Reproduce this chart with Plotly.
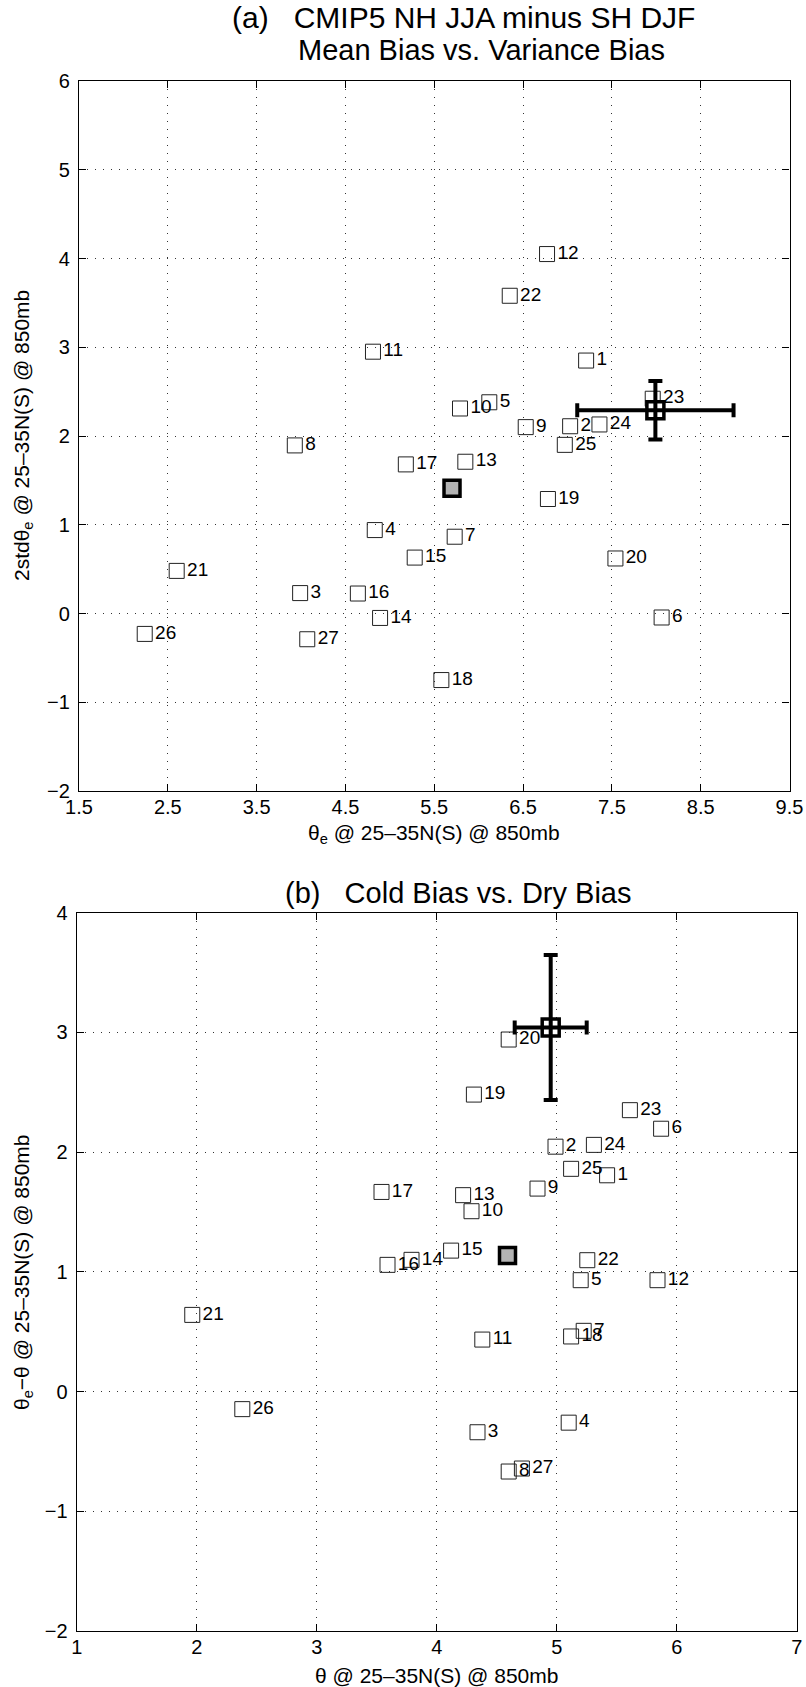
import plotly.graph_objects as go

W, H = 806, 1687

model_labels = [str(i) for i in range(1, 28)]

# Panel (a): mean bias (theta_e) vs variance bias (2 std theta_e)
a_theta_e = [7.21, 7.03, 3.99, 4.83, 6.12, 8.06, 5.73, 3.93, 6.53, 5.79,
             4.81, 6.77, 5.85, 4.89, 5.28, 4.64, 5.18, 5.58, 6.78, 7.54,
             2.60, 6.35, 7.96, 7.36, 6.97, 2.24, 4.07]
a_2std = [2.85, 2.11, 0.23, 0.94, 2.38, -0.045, 0.865, 1.894, 2.10, 2.31,
          2.95, 4.05, 1.71, -0.05, 0.63, 0.225, 1.68, -0.75, 1.29, 0.62,
          0.48, 3.58, 2.42, 2.13, 1.90, -0.23, -0.29]
a_mean = [5.70, 1.41]
a_obs = [7.99, 2.29]
a_obs_err = [0.88, 0.33]

# Panel (b): cold bias (theta) vs dry bias (theta_e - theta)
b_theta = [5.42, 4.99, 4.34, 5.10, 5.20, 5.87, 5.225, 4.60, 4.84, 4.29,
           4.38, 5.84, 4.22, 3.79, 4.12, 3.59, 3.54, 5.12, 4.31, 4.60,
           1.963, 5.255, 5.61, 5.31, 5.12, 2.38, 4.71]
b_dry = [1.806, 2.045, -0.34, -0.26, 0.93, 2.195, 0.507, -0.668, 1.695, 1.506,
         0.434, 0.93, 1.64, 1.10, 1.177, 1.058, 1.667, 0.46, 2.48, 2.94,
         0.64, 1.097, 2.35, 2.06, 1.86, -0.147, -0.643]
b_mean = [4.59, 1.137]
b_obs = [4.95, 3.04]
b_obs_err = [0.30, 0.605]

a_xticks = [1.5, 2.5, 3.5, 4.5, 5.5, 6.5, 7.5, 8.5, 9.5]
a_yticks = [-2, -1, 0, 1, 2, 3, 4, 5, 6]
b_xticks = [1, 2, 3, 4, 5, 6, 7]
b_yticks = [-2, -1, 0, 1, 2, 3, 4]

FONT = "Liberation Sans, Arial, Helvetica, sans-serif"

fig = go.Figure()


def add_panel(xs, ys, mean, obs, err, xa, ya):
    fig.add_trace(go.Scatter(
        x=xs, y=ys, mode="markers+text", text=model_labels,
        textposition="middle right",
        textfont=dict(family=FONT, size=19, color="black"),
        marker=dict(symbol="square", size=15, color="rgba(0,0,0,0)",
                    line=dict(color="#222222", width=1)),
        xaxis=xa, yaxis=ya, showlegend=False, cliponaxis=False))
    fig.add_trace(go.Scatter(
        x=[mean[0]], y=[mean[1]], mode="markers",
        marker=dict(symbol="square", size=16, color="#b3b3b3",
                    line=dict(color="black", width=3.5)),
        xaxis=xa, yaxis=ya, showlegend=False))
    fig.add_trace(go.Scatter(
        x=[obs[0]], y=[obs[1]], mode="markers",
        marker=dict(symbol="square", size=17, color="white",
                    line=dict(color="black", width=3.5)),
        xaxis=xa, yaxis=ya, showlegend=False))
    fig.add_trace(go.Scatter(
        x=[obs[0]], y=[obs[1]], mode="markers",
        marker=dict(size=1, color="rgba(0,0,0,0)"),
        error_x=dict(type="constant", value=err[0], color="black",
                     thickness=4, width=7),
        error_y=dict(type="constant", value=err[1], color="black",
                     thickness=4, width=7),
        xaxis=xa, yaxis=ya, showlegend=False))


add_panel(a_theta_e, a_2std, a_mean, a_obs, a_obs_err, "x", "y")
add_panel(b_theta, b_dry, b_mean, b_obs, b_obs_err, "x2", "y2")

axis_common = dict(
    showline=True, linecolor="black", linewidth=1.3, mirror="allticks",
    ticks="inside", ticklen=7, tickwidth=1, tickcolor="black",
    showgrid=True, gridcolor="#333333", gridwidth=1, griddash="1px,7px",
    zeroline=False, automargin=False,
    tickfont=dict(family=FONT, size=20, color="black"),
)


def px(v):
    return v / W


def py(v):
    return 1 - v / H


fig.update_layout(
    template="none",
    width=W, height=H, margin=dict(l=0, r=0, t=0, b=0, pad=0, autoexpand=False),
    paper_bgcolor="white", plot_bgcolor="white",
    xaxis=dict(domain=[px(79), px(789.5)], range=[1.5, 9.5],
               tickvals=a_xticks, ticktext=[str(t) for t in a_xticks],
               anchor="y", ticklabelstandoff=-2, **axis_common),
    yaxis=dict(domain=[py(791), py(81)], range=[-2, 6],
               tickvals=a_yticks,
               ticktext=[str(t).replace("-", "\u2212") for t in a_yticks],
               anchor="x", ticklabelstandoff=4, **axis_common),
    xaxis2=dict(domain=[px(76.7), px(796.7)], range=[1, 7],
                tickvals=b_xticks, ticktext=[str(t) for t in b_xticks],
                anchor="y2", ticklabelstandoff=-2, **axis_common),
    yaxis2=dict(domain=[py(1631), py(912.6)], range=[-2, 4],
                tickvals=b_yticks,
                ticktext=[str(t).replace("-", "\u2212") for t in b_yticks],
                anchor="x2", ticklabelstandoff=4, **axis_common),
)

ann = []


def text(x, y, s, size, angle=0, xanchor="center"):
    ann.append(dict(x=px(x), y=py(y), xref="paper", yref="paper", text=s,
                    showarrow=False, xanchor=xanchor, yanchor="middle",
                    textangle=angle,
                    font=dict(family=FONT, size=size, color="black")))


text(230, 18, "(a)   CMIP5 NH JJA minus SH DJF", 30, xanchor="left")
text(296, 50, "Mean Bias vs. Variance Bias", 29, xanchor="left")
text(434, 834, "\u03b8<sub>e</sub> @ 25\u201335N(S) @ 850mb", 21)
text(23, 436, "2std\u03b8<sub>e</sub> @ 25\u201335N(S) @ 850mb", 21, angle=-90)

text(283, 893, "(b)   Cold Bias vs. Dry Bias", 29, xanchor="left")
text(436, 1675, "\u03b8 @ 25\u201335N(S) @ 850mb", 21)
text(23, 1272, "\u03b8<sub>e</sub>\u2212\u03b8 @ 25\u201335N(S) @ 850mb", 21, angle=-90)

fig.update_layout(annotations=ann)

post = ("document.documentElement.style.margin='0';"
        "document.body.style.margin='0';document.body.style.padding='0';"
        "document.body.style.overflow='hidden';")
fig.write_html("out.html", post_script=post,
               config={"displayModeBar": False, "responsive": False})
